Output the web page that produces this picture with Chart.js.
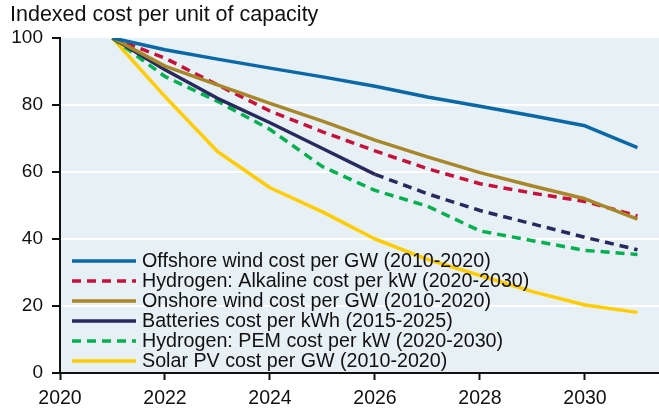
<!DOCTYPE html>
<html>
<head>
<meta charset="utf-8">
<script src="https://cdn.jsdelivr.net/npm/chart.js@4"></script>
<style>
  html, body { margin: 0; padding: 0; background: #ffffff; }
  #wrap { width: 659px; height: 411px; }
</style>
</head>
<body>
<div id="wrap"><canvas id="c" width="659" height="411"></canvas></div>
<script>
const TITLE = 'Indexed cost per unit of capacity';
const years = [2021, 2022, 2023, 2024, 2025, 2026, 2027, 2028, 2029, 2030, 2031];
const xTickValues = [2020, 2022, 2024, 2026, 2028, 2030];
const yTickValues = [0, 20, 40, 60, 80, 100];

const offshoreWind = [100, 96.5, 93.7, 91.0, 88.4, 85.6, 82.4, 79.6, 76.8, 73.8, 67.3];
const hydrogenAlkaline = [100, 94.0, 86.0, 78.2, 72.0, 66.3, 61.0, 56.5, 53.7, 51.2, 46.9];
const onshoreWind = [100, 91.6, 86.0, 80.5, 75.2, 69.5, 64.5, 59.8, 55.8, 52.0, 45.9];
const batteries = [100, 90.5, 82.0, 74.7, 67.0, 59.3, 53.5, 48.5, 44.5, 40.5, 36.8];
const hydrogenPEM = [100, 88.5, 81.1, 72.7, 61.6, 54.5, 49.8, 42.4, 39.5, 36.6, 35.4];
const solarPV = [100, 82.5, 66.1, 55.3, 48.1, 40.0, 33.9, 29.1, 24.3, 20.3, 18.1];

const labels = [
  'Offshore wind cost per GW (2010-2020)',
  'Hydrogen: Alkaline cost per kW (2020-2030)',
  'Onshore wind cost per GW (2010-2020)',
  'Batteries cost per kWh (2015-2025)',
  'Hydrogen: PEM cost per kW (2020-2030)',
  'Solar PV cost per GW (2010-2020)'
];

const FONT = '"Liberation Sans", Arial, sans-serif';
const DASH = [9, 6];
const toPts = arr => arr.map((v, i) => ({ x: years[i], y: v }));

function ds(label, data, color, dashed, order, extra) {
  return Object.assign({
    label, data: toPts(data), borderColor: color, backgroundColor: color,
    borderWidth: 3.5, pointRadius: 0, tension: 0, fill: false,
    borderDash: dashed ? DASH : [], borderCapStyle: 'butt', borderJoinStyle: 'round',
    order, dashedLegend: dashed
  }, extra || {});
}

const datasets = [
  ds(labels[0], offshoreWind, '#0a68a6', false, 1),
  ds(labels[1], hydrogenAlkaline, '#c4123b', true, 3),
  ds(labels[2], onshoreWind, '#a8862a', false, 2),
  ds(labels[3], batteries, '#29285f', false, 4, {
    segment: { borderDash: c => (c.p0.parsed.x >= 2026 ? DASH : undefined) }
  }),
  ds(labels[4], hydrogenPEM, '#00b050', true, 5),
  ds(labels[5], solarPV, '#ffcc00', false, 6)
];

const bgPlugin = {
  id: 'bg',
  beforeDraw(chart) {
    const { ctx, chartArea: a } = chart;
    ctx.save();
    ctx.fillStyle = '#e7f0f4';
    ctx.fillRect(a.left, a.top, a.right - a.left, a.bottom - a.top);
    ctx.restore();
  },
  afterDraw(chart) {
    const ctx = chart.ctx;
    ctx.save();
    ctx.fillStyle = '#111111';
    ctx.font = '21.5px ' + FONT;
    ctx.textAlign = 'left';
    ctx.textBaseline = 'alphabetic';
    ctx.fillText(TITLE, 10, 21);
    ctx.restore();
  }
};

const legendPlugin = {
  id: 'inlegend',
  afterDatasetsDraw(chart) {
    const ctx = chart.ctx;
    ctx.save();
    chart.data.datasets.forEach((d, i) => {
      const y = 261 + i * 20;
      ctx.strokeStyle = d.borderColor;
      ctx.lineWidth = 3.5;
      ctx.lineCap = 'butt';
      ctx.setLineDash(d.dashedLegend ? DASH : []);
      ctx.beginPath();
      ctx.moveTo(72, y);
      ctx.lineTo(136, y);
      ctx.stroke();
      ctx.setLineDash([]);
      ctx.fillStyle = '#111111';
      ctx.font = '19.7px ' + FONT;
      ctx.textAlign = 'left';
      ctx.textBaseline = 'middle';
      ctx.fillText(d.label, 142, y + 1);
    });
    ctx.restore();
  }
};

new Chart(document.getElementById('c'), {
  type: 'line',
  data: { datasets },
  plugins: [bgPlugin, legendPlugin],
  options: {
    responsive: false,
    animation: false,
    layout: { padding: { top: 38, right: 0, left: 0, bottom: 0 } },
    plugins: { legend: { display: false }, tooltip: { enabled: false }, title: { display: false } },
    scales: {
      x: {
        type: 'linear',
        min: 2020,
        max: 2031.41,
        afterBuildTicks: s => { s.ticks = xTickValues.map(v => ({ value: v })); },
        afterFit: s => { s.height = 38; },
        ticks: {
          color: '#111111', font: { family: FONT, size: 19.5 }, padding: 7,
          maxRotation: 0, autoSkip: false, callback: v => String(v)
        },
        grid: { drawOnChartArea: false, drawTicks: true, tickLength: 7, tickColor: '#111111', tickWidth: 2 },
        border: { display: true, color: '#111111', width: 2 }
      },
      y: {
        min: 0,
        max: 100,
        afterBuildTicks: s => { s.ticks = yTickValues.map(v => ({ value: v })); },
        afterFit: s => { s.width = 60; },
        ticks: { color: '#111111', font: { family: FONT, size: 19 }, padding: 9, callback: v => String(v) },
        grid: {
          color: c => (c.tick && (c.tick.value === 0 || c.tick.value === 100) ? 'rgba(0,0,0,0)' : '#ffffff'),
          lineWidth: 2, drawTicks: true, tickLength: 8, tickColor: '#111111', tickWidth: 2
        },
        border: { display: true, color: '#111111', width: 2 }
      }
    }
  }
});
</script>
</body>
</html>
